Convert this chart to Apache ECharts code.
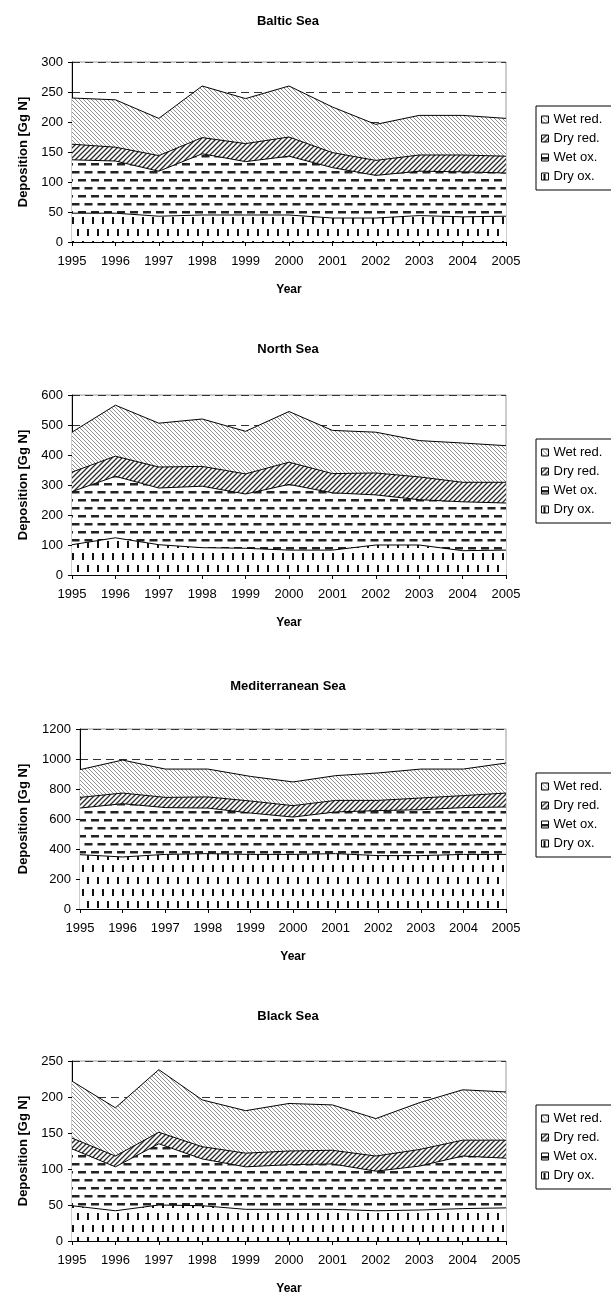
<!DOCTYPE html>
<html><head><meta charset="utf-8">
<script src="https://cdn.jsdelivr.net/npm/echarts@6/dist/echarts.min.js"></script>
<style>html,body{margin:0;padding:0;background:#fff}#c{width:611px;height:1296px}</style>
</head><body><div id="c"></div>
<script>
// ---------- data ----------
const years = ['1995','1996','1997','1998','1999','2000','2001','2002','2003','2004','2005'];
const stackNames = ['Dry ox.','Wet ox.','Dry red.','Wet red.'];
const legendOrder = ['Wet red.','Dry red.','Wet ox.','Dry ox.'];
const chartTitles = ['Baltic Sea','North Sea','Mediterranean Sea','Black Sea'];
const yMaxes = [300, 600, 1200, 250];
const yIntervals = [50, 100, 200, 50];
const yAxisTitle = 'Deposition [Gg N]';
const xAxisTitle = 'Year';

const balticDryOx  = [48,48,43,45,45,45,40,40,44,42,43];
const balticWetOx  = [89,87,75,102,89,98,84,71,74,75,72];
const balticDryRed = [26,23,26,27,30,32,25,25,27,28,28];
const balticWetRed = [77,79,62,86,75,85,76,60,66,66,63];

const northDryOx  = [101,124,101,91,89,83,83,100,100,81,83];
const northWetOx  = [177,205,189,205,181,219,191,167,151,163,157];
const northDryRed = [65,67,70,66,67,74,64,73,76,65,69];
const northWetRed = [133,170,146,158,142,169,144,136,121,131,122];

const medDryOx  = [362,347,364,369,364,364,369,356,356,364,364];
const medWetOx  = [311,355,312,304,276,249,278,300,306,312,316];
const medDryRed = [71,71,68,74,80,76,77,68,78,80,93];
const medWetRed = [185,220,189,186,164,158,165,183,193,177,200];

const blackDryOx  = [49,42,50,49,44,44,44,42,43,45,46];
const blackWetOx  = [79,61,85,65,59,62,63,55,61,73,69];
const blackDryRed = [15,15,16,17,19,19,19,21,23,22,25];
const blackWetRed = [79,67,87,65,59,66,63,52,65,70,67];

const chartData = [
  [balticDryOx, balticWetOx, balticDryRed, balticWetRed],
  [northDryOx, northWetOx, northDryRed, northWetRed],
  [medDryOx, medWetOx, medDryRed, medWetRed],
  [blackDryOx, blackWetOx, blackDryRed, blackWetRed]
];

// ---------- layout ----------
const gridTops = [62, 395, 729, 1061];
const gridLefts = [72, 72, 80, 72];
const gridRight = 105;
const gridHeight = 180;
const titleCenters = [18, 346, 683, 1013];
const FONT = '"Liberation Sans", Arial, sans-serif';

// ---------- patterns ----------
function tile(w, h, draw) {
  const c = document.createElement('canvas');
  c.width = w; c.height = h;
  const g = c.getContext('2d');
  g.fillStyle = '#fff'; g.fillRect(0, 0, w, h);
  draw(g, w, h);
  return { image: c, repeat: 'repeat' };
}
const patterns = {
  'Dry ox.': tile(10, 24, g => {
    g.fillStyle = '#111';
    g.fillRect(2, 1, 2, 7);
    g.fillRect(7, 13, 2, 7);
  }),
  'Wet ox.': tile(13, 16, g => {
    g.fillStyle = '#222';
    g.fillRect(0, 3, 8, 2.5);
    g.fillRect(6.5, 11, 8, 2.5);
    g.fillRect(-6.5, 11, 8, 2.5);
  }),
  'Dry red.': tile(5, 5, (g, s) => {
    g.strokeStyle = '#2a2a2a'; g.lineWidth = 1.3;
    g.beginPath();
    g.moveTo(0, s); g.lineTo(s, 0);
    g.moveTo(-1, 1); g.lineTo(1, -1);
    g.moveTo(s - 1, s + 1); g.lineTo(s + 1, s - 1);
    g.stroke();
  }),
  'Wet red.': tile(4, 4, (g, s) => {
    g.strokeStyle = '#8f8f8f'; g.lineWidth = 1;
    g.beginPath();
    g.moveTo(0, 0); g.lineTo(s, s);
    g.moveTo(s - 1, -1); g.lineTo(s + 1, 1);
    g.moveTo(-1, s - 1); g.lineTo(1, s + 1);
    g.stroke();
  })
};

// ---------- option ----------
const option = { animation: false, title: [], grid: [], xAxis: [], yAxis: [], legend: [], series: [] };

chartTitles.forEach((t, i) => {
  option.title.push({
    text: t, left: 283, top: titleCenters[i] - 8, textAlign: 'center',
    textStyle: { fontSize: 13, fontWeight: 'bold', color: '#000', fontFamily: FONT }
  });
  option.grid.push({
    left: gridLefts[i], right: gridRight, top: gridTops[i], height: gridHeight,
    show: true, borderColor: '#9a9a9a', borderWidth: 1, backgroundColor: 'transparent'
  });
  option.xAxis.push({
    type: 'category', gridIndex: i, data: years, boundaryGap: false,
    axisLine: { lineStyle: { color: '#000', width: 1 } },
    axisTick: { show: true, length: 4, lineStyle: { color: '#000' } },
    axisLabel: { color: '#000', fontSize: 13, margin: 13, interval: 0, fontFamily: FONT },
    splitLine: { show: false },
    name: xAxisTitle, nameLocation: 'middle', nameGap: 42,
    nameTextStyle: { fontSize: 12, fontWeight: 'bold', color: '#000', fontFamily: FONT }
  });
  option.yAxis.push({
    type: 'value', gridIndex: i, min: 0, max: yMaxes[i], interval: yIntervals[i],
    axisLine: { show: true, lineStyle: { color: '#000', width: 1 } },
    axisTick: { show: true, length: 4, lineStyle: { color: '#000' } },
    axisLabel: { color: '#000', fontSize: 13, margin: 9, fontFamily: FONT,
      formatter: v => String(v) },
    splitLine: { show: true, lineStyle: { color: '#333', type: [8, 5], width: 1 } },
    name: yAxisTitle, nameLocation: 'middle', nameRotate: 90, nameGap: gridLefts[i] - 30,
    nameTextStyle: { fontSize: 13, fontWeight: 'bold', color: '#000', fontFamily: FONT }
  });
  option.legend.push({
    orient: 'vertical', left: 536, top: gridTops[i] + gridHeight / 2 - 46,
    data: legendOrder.map(n => ({ name: n, icon: 'rect',
      itemStyle: { color: patterns[n], borderColor: '#000', borderWidth: 1 } })),
    itemWidth: 7, itemHeight: 7, itemGap: 6,
    borderColor: '#000', borderWidth: 1, padding: [7, 40, 7, 5],
    backgroundColor: '#fff', selectedMode: false,
    textStyle: { fontSize: 13, color: '#000', fontFamily: FONT }
  });
  stackNames.forEach((n, j) => {
    option.series.push({
      name: n, type: 'line', xAxisIndex: i, yAxisIndex: i, stack: 'st' + i,
      data: chartData[i][j], symbol: 'none', showSymbol: false,
      lineStyle: { color: '#000', width: 1 },
      itemStyle: { color: patterns[n], borderColor: '#000', borderWidth: 1 },
      areaStyle: { color: patterns[n], opacity: 1 },
      emphasis: { disabled: true }, silent: true
    });
  });
});

const chart = echarts.init(document.getElementById('c'), null, { renderer: 'canvas' });
chart.setOption(option);
</script>
</body></html>
